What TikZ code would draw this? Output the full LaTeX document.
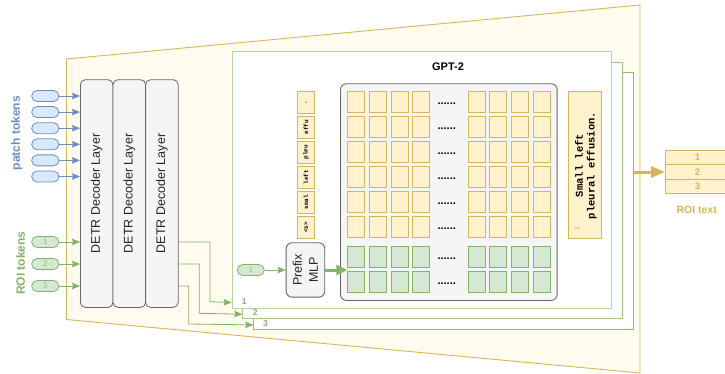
\documentclass[tikz,border=0pt]{standalone}
\usepackage{fontspec}
\setmainfont{Liberation Sans}
\newfontfamily\monof{Liberation Mono}
\usetikzlibrary{arrows.meta}
\definecolor{ylfill}{HTML}{FFF2CC}
\definecolor{ylline}{HTML}{D6B656}
\definecolor{grfill}{HTML}{D5E8D4}
\definecolor{grline}{HTML}{82B366}
\definecolor{blfill}{HTML}{DAE8FC}
\definecolor{blline}{HTML}{6C8EBF}
\definecolor{gyfill}{HTML}{F5F5F5}
\definecolor{gyline}{HTML}{666666}
\definecolor{bgfill}{HTML}{FFFBEF}
\definecolor{boxA}{HTML}{B3D49E}
\definecolor{boxB}{HTML}{9FC887}
\definecolor{boxC}{HTML}{8DBD72}
\tikzset{
  cellY/.style={draw=ylline, fill=ylfill, line width=0.8pt, minimum width=17pt, minimum height=21.7pt, inner sep=0pt, anchor=north west},
  cellG/.style={cellY, draw=grline, fill=grfill},
  layerbox/.style={draw=gyline, fill=gyfill, line width=0.8pt, rounded corners=5pt, minimum width=32.6pt, minimum height=227.7pt, inner sep=0pt, anchor=north west},
  layertext/.style={rotate=90, font=\fontsize{12.5}{14}\selectfont, text=black!85},
  pillB/.style={draw=blline, fill=blfill, line width=0.8pt, rounded corners=5.5pt, minimum width=27.3pt, minimum height=11pt, inner sep=0pt},
  pillG/.style={pillB, draw=grline, fill=grfill, text=grline!85, font=\fontsize{8}{8}\selectfont},
  gptbox/.style={fill=white, line width=0.9pt, inner sep=0pt, anchor=north west},
  tokbox/.style={cellY, minimum width=16.7pt},
  toktext/.style={rotate=90, font=\monof\bfseries\fontsize{6}{6}\selectfont},
  dotstext/.style={font=\bfseries\fontsize{11}{11}\selectfont, inner sep=0pt},
  barrow/.style={draw=blline, line width=0.8pt, -{Stealth[length=8pt,width=6.5pt,inset=1pt]}},
  garrow/.style={draw=grline, line width=0.8pt, -{Stealth[length=8pt,width=6.5pt,inset=1pt]}},
  gthick/.style={draw=grline, line width=3pt, -{Triangle[length=11pt,width=10pt]}},
  ythick/.style={draw=ylline, line width=3pt, -{Triangle[length=14pt,width=11pt]}},
  numlab/.style={text=grline, font=\bfseries\fontsize{8.5}{9}\selectfont, inner sep=0pt},
}
\begin{document}
\begin{tikzpicture}[x=1pt,y=-1pt]
\useasboundingbox (0,0) rectangle (725,374);
\clip (0,0) rectangle (725,374);

% background trapezoid
\draw[draw=ylline, fill=bgfill, line width=0.9pt] (66.5,59) -- (640,5) -- (640,373) -- (66.5,319.5) -- cycle;

% GPT-2 stacked boxes
\node[gptbox, draw=boxC, minimum width=379.4pt, minimum height=257pt] (g3) at (253.3,72.3) {};
\node[gptbox, draw=boxB, minimum width=379.7pt, minimum height=256.6pt] (g2) at (242.3,61.7) {};
\node[gptbox, draw=boxA, minimum width=379.3pt, minimum height=256.5pt] (g1) at (231.7,51) {};
\node[font=\bfseries\fontsize{11}{12}\selectfont] (gptlab) at (448,66.5) {GPT-2};
\node[numlab] (n1) at (244.3,301.5) {1};
\node[numlab] (n2) at (255.3,312.7) {2};
\node[numlab] (n3) at (265.5,324) {3};

% inner gray box
\node[draw=gyline, fill=gyfill, line width=0.9pt, rounded corners=6pt, minimum width=216.7pt, minimum height=216.7pt, inner sep=0pt, anchor=north west] (gray) at (340,83.3) {};

% grid cells
\foreach \c [count=\ci] in {347.3,369,390.7,412.3,467.7,489.3,511,532.7} {
  \foreach \r in {0,...,5} {
    \node[cellY] (y-\r-\ci) at (\c,{90.7+25*\r}) {};
  }
  \node[cellG] (ga-\ci) at (\c,245.7) {};
  \node[cellG] (gb-\ci) at (\c,270.7) {};
}
\foreach \yy [count=\i] in {103.3,128.3,153.3,178.3,203.3,228.3,258.3,283.3} {
  \node[dotstext] (dots\i) at (446.7,\yy) {......};
}

% token column
\foreach \t [count=\i from 0] in {.,effu,pleu,left,smal,<s>} {
  \node[tokbox] (tk\i) at (297.3,{91+25*\i}) {};
  \node[toktext] (tkt\i) at (tk\i.center) {\t};
}

% output text box
\node[draw=ylline, fill=ylfill, line width=0.9pt, minimum width=32.7pt, minimum height=146.7pt, inner sep=0pt, anchor=north west] (outbox) at (568.3,91) {};
\node[rotate=90, align=center, font=\monof\bfseries\fontsize{10.5}{11.7}\selectfont] (outtext) at (586,165.5) {Small left\\pleural effusion.};
\node[rotate=90, text=ylline, font=\fontsize{7.5}{8}\selectfont] (outnum) at (576.7,228) {1};

% ROI text table
\node[cellY, minimum width=64pt, minimum height=14pt, font=\bfseries\fontsize{9.5}{10}\selectfont, text=ylline] (r1) at (665,150) {1};
\node[cellY, minimum width=64pt, minimum height=15.3pt, font=\bfseries\fontsize{9.5}{10}\selectfont, text=ylline] (r2) at (665,164) {2};
\node[cellY, minimum width=64pt, minimum height=14pt, font=\bfseries\fontsize{9.5}{10}\selectfont, text=ylline] (r3) at (665,179.3) {3};
\node[text=ylline, font=\bfseries\fontsize{10.5}{11}\selectfont] (roitext) at (696.7,210) {ROI text};
\draw[ythick] (g3.east |- r2.west) -- (r2.west);

% Prefix MLP
\node[draw=gyline, fill=gyfill, line width=0.9pt, rounded corners=6pt, minimum width=38.6pt, minimum height=54.4pt, inner sep=0pt, anchor=north west] (prefix) at (285.7,242.3) {};
\node[rotate=90, align=center, font=\fontsize{12.5}{16}\selectfont, text=black!85] (prefixt) at (prefix.center) {Prefix\\MLP};
\node[pillG, minimum width=27pt] (pin) at (250.8,270) {1};
\draw[garrow] (pin.east) -- (prefix.west |- pin.east);
\draw[gthick] (prefix.east |- pin.east) -- (gb-1.west |- pin.east);

% DETR layers
\node[layerbox] (l1) at (80,79.3) {};
\node[layerbox] (l2) at (112.6,79.3) {};
\node[layerbox] (l3) at (145.2,79.3) {};
\node[layertext] (l1t) at (l1.center) {DETR Decoder Layer};
\node[layertext] (l2t) at (l2.center) {DETR Decoder Layer};
\node[layertext] (l3t) at (l3.center) {DETR Decoder Layer};

% patch tokens
\foreach \i in {0,...,5} {
  \node[pillB] (p\i) at (45.3,{96+16.1*\i}) {};
  \draw[barrow] (p\i.east) -- (l1.west |- p\i.east);
}
\node[rotate=90, text=blline, font=\bfseries\fontsize{12}{13}\selectfont] (patchlab) at (16.7,133) {patch tokens};

% ROI tokens
\node[pillG] (t1) at (45.3,242) {1};
\node[pillG] (t2) at (45.3,264) {2};
\node[pillG] (t3) at (45.3,286) {3};
\foreach \i in {1,2,3} {
  \draw[garrow] (t\i.east) -- (l1.west |- t\i.east);
}
\node[rotate=90, text=grline, font=\bfseries\fontsize{12}{13}\selectfont] (roilab) at (20.7,263) {ROI tokens};

% connectors from last DETR layer to the GPT-2 boxes
\draw[garrow] (l3.east |- t1.east) -| (210,301.7) -- ([yshift=5.8pt]g1.south west);
\draw[garrow] (l3.east |- t2.east) -| (199.3,313.3) -- ([yshift=5pt]g2.south west);
\draw[garrow] (l3.east |- t3.east) -| (188.7,324) -- ([yshift=5.3pt]g3.south west);
\end{tikzpicture}
\end{document}
